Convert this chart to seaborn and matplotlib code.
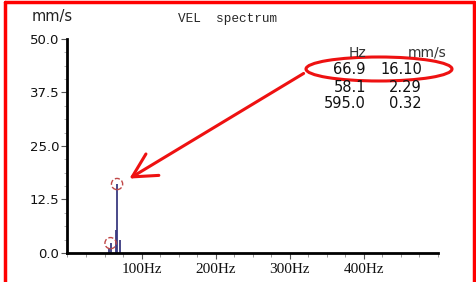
"""
plot.py
-------
VEL spectrum screenshot with peak table and red call-out.
"""

import matplotlib
matplotlib.use("Agg")
import matplotlib.pyplot as plt
import numpy as np
import pandas as pd
import seaborn as sns
from matplotlib.lines import Line2D
from matplotlib.patches import Ellipse, FancyArrowPatch
from matplotlib.ticker import MultipleLocator, FuncFormatter

# spectrum lines (Hz, mm/s)
spec_hz = [56.6, 58.1, 65.6, 66.9, 70.8]
spec_amp = [1.2, 2.29, 5.4, 16.10, 3.0]

# peak table
peak_hz = [66.9, 58.1, 595.0]
peak_amp = [16.10, 2.29, 0.32]

y_ticks = [0.0, 12.5, 25.0, 37.5, 50.0]
x_ticks = [100, 200, 300, 400]

sns.set_style("white")
plt.rcParams["font.family"] = ["DejaVu Sans"]

fig = plt.figure(figsize=(4.77, 2.82), dpi=100)
ax = fig.add_axes([0.1415, 0.103, 0.7765, 0.759])

spec = pd.DataFrame({"hz": spec_hz, "amp": spec_amp})
ax.vlines(spec["hz"], 0, spec["amp"], color="#3a3a80", linewidth=1.3)

peaks = pd.DataFrame({"hz": peak_hz, "amp": peak_amp})
shown = peaks[peaks["hz"] <= 500]
sns.scatterplot(data=shown, x="hz", y="amp", ax=ax, marker="o", s=65,
                facecolor="none", edgecolor="#c04848", linewidth=1.0,
                linestyle="--", legend=False, zorder=3)

ax.set_xlim(0, 500)
ax.set_ylim(0, 50)
ax.set_xlabel("")
ax.set_ylabel("")
ax.set_xticks(x_ticks)
ax.xaxis.set_major_formatter(FuncFormatter(lambda v, p: f"{v:.0f}Hz"))
ax.xaxis.set_minor_locator(MultipleLocator(25))
ax.set_yticks(y_ticks)
ax.yaxis.set_major_formatter(FuncFormatter(lambda v, p: f"{v:.1f}"))
ax.yaxis.set_minor_locator(MultipleLocator(3.125))

for side in ["top", "right"]:
    ax.spines[side].set_visible(False)
for side in ["left", "bottom"]:
    ax.spines[side].set_linewidth(2.0)
    ax.spines[side].set_color("black")

ax.tick_params(axis="both", which="both", bottom=True, left=True)
ax.tick_params(axis="both", which="major", direction="out", length=4,
               width=0.8, color="#555555", pad=2)
ax.tick_params(axis="x", which="minor", direction="out", length=3,
               width=0.6, color="#888888")
ax.tick_params(axis="y", which="minor", direction="out", length=2,
               width=0.6, color="#aaaaaa")
ax.tick_params(axis="y", labelsize=9.5, labelcolor="#111111")
ax.tick_params(axis="x", labelsize=11, labelcolor="#111111", pad=3)
for lab in ax.get_xticklabels():
    lab.set_family(["Liberation Serif", "DejaVu Serif"])

# header texts
fig.text(32 / 477, 1 - 16 / 282, "mm/s", fontsize=10.5, color="#222222",
         va="center", ha="left")
fig.text(178 / 477, 1 - 19 / 282, "VEL  spectrum", fontsize=9.2,
         family=["Liberation Mono", "DejaVu Sans Mono"], va="center", ha="left")

# peak table
row_y = [53, 70, 87, 104]
fig.text(366 / 477, 1 - row_y[0] / 282, "Hz", fontsize=10, color="#333333",
         ha="right", va="center")
fig.text(447 / 477, 1 - row_y[0] / 282, "mm/s", fontsize=10, color="#333333",
         ha="right", va="center")
for i, (h, a) in enumerate(zip(peak_hz, peak_amp)):
    fig.text(366 / 477, 1 - row_y[i + 1] / 282, f"{h:.1f}", fontsize=10.5,
             color="#111111", ha="right", va="center")
    fig.text(422 / 477, 1 - row_y[i + 1] / 282, f"{a:.2f}", fontsize=10.5,
             color="#111111", ha="right", va="center")

# red call-out: ellipse, arrow, frame
to_fig = lambda x, y: (x / 477, 1 - y / 282)
ell = Ellipse(to_fig(379, 69), 146 / 477, 24 / 282, transform=fig.transFigure,
              fill=False, edgecolor="#ee1111", linewidth=2.2)
fig.patches.append(ell)

arrow = FancyArrowPatch(to_fig(306, 72), to_fig(127, 180),
                        transform=fig.transFigure,
                        arrowstyle="->,head_length=0.85,head_width=0.45",
                        mutation_scale=20, color="#ee1111", linewidth=2.2)
fig.patches.append(arrow)

for xs, ys in [([5, 474], [2, 2]), ([5, 5], [2, 282]), ([474, 474], [2, 282])]:
    fig.add_artist(Line2D([x / 477 for x in xs], [1 - y / 282 for y in ys],
                          transform=fig.transFigure, color="#ff0000",
                          linewidth=2.5))

plt.savefig("out.png", dpi=100)
plt.close()
